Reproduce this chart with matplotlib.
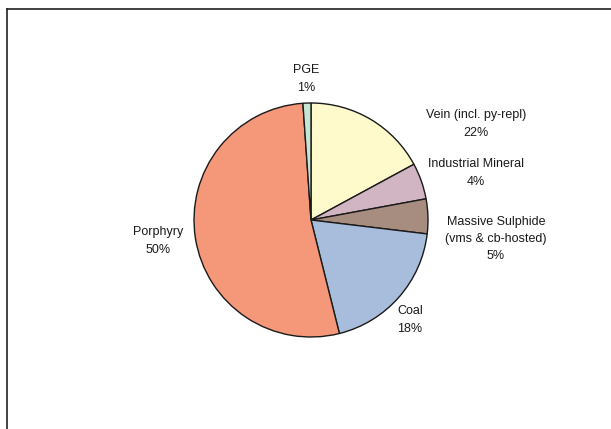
import matplotlib.pyplot as plt

plt.rcParams['font.family'] = ['Liberation Sans', 'DejaVu Sans']

categories = ['Vein (incl. py-repl)', 'Industrial Mineral',
              'Massive Sulphide\n(vms & cb-hosted)', 'Coal', 'Porphyry', 'PGE']
# slice sizes as drawn (measured angles)
shares = [17.1, 5.0, 4.8, 19.2, 52.8, 1.1]
# percentages printed on the labels
pct_labels = ['22%', '4%', '5%', '18%', '50%', '1%']
colors = ['#FFFACC', '#D2B5C2', '#A78D7F', '#A8BCDB', '#F5987A', '#C6E6D4']

# label centres in pixel coords (x, y from top)
label_pos = [(476, 124), (476, 173), (496, 239), (410, 320), (158, 241), (306, 79)]

W, H = 611, 429
fig = plt.figure(figsize=(W / 100, H / 100), dpi=100)

# chart-area frame (cut off at right and bottom)
frame = fig.add_axes([7 / W, -0.1, 1.2, 1.1 - 9 / H])
frame.set_xticks([])
frame.set_yticks([])
for s in ['right', 'bottom']:
    frame.spines[s].set_visible(False)
for s in ['left', 'top']:
    frame.spines[s].set_linewidth(1.2)
    frame.spines[s].set_color('#222222')
frame.patch.set_alpha(0)

ax = fig.add_axes([0, 0, 1, 1])
ax.pie(shares, colors=colors, startangle=90, counterclock=False,
       center=(311, H - 220), radius=117, frame=True,
       wedgeprops=dict(edgecolor='#1a1a1a', linewidth=1.0))
ax.set_xlim(0, W)
ax.set_ylim(0, H)
ax.axis('off')
ax.patch.set_alpha(0)

for name, pct, (x, y) in zip(categories, pct_labels, label_pos):
    ax.text(x, H - y, name + '\n' + pct, ha='center', va='center',
            fontsize=9, color='#1a1a1a', linespacing=1.6)

fig.savefig('out.png', dpi=100)
